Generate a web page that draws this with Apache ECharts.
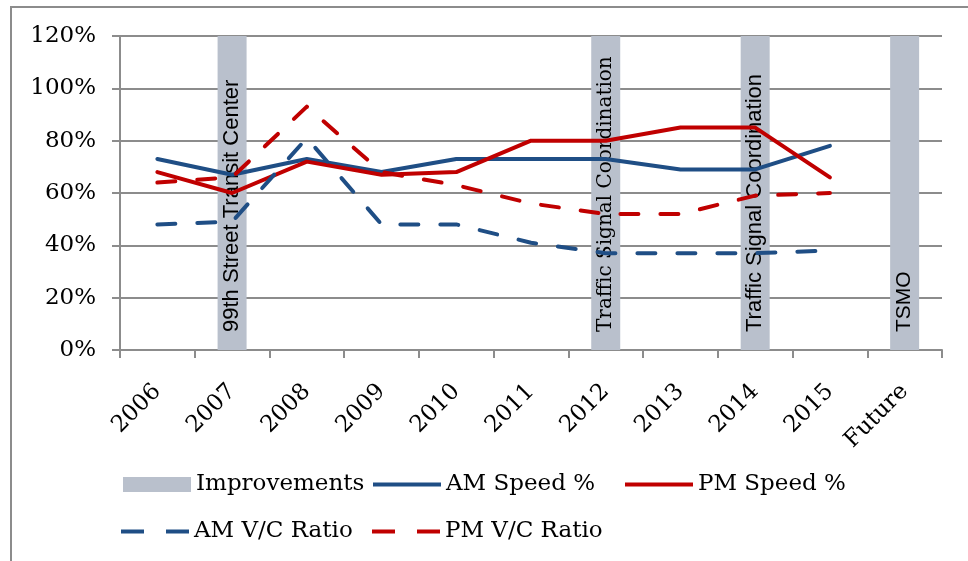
<!DOCTYPE html>
<html>
<head>
<meta charset="utf-8">
<script src="https://cdn.jsdelivr.net/npm/echarts@6/dist/echarts.min.js"></script>
<style>
  html, body { margin: 0; padding: 0; background: #fff; }
  #chart { width: 968px; height: 561px; }
</style>
</head>
<body>
<div id="chart"></div>
<script>
// Years on the category axis
const categories = ['2006', '2007', '2008', '2009', '2010', '2011', '2012', '2013', '2014', '2015', 'Future'];

// Corridor performance, percent
const amSpeed = [73, 67, 73, 68, 73, 73, 73, 69, 69, 78];
const pmSpeed = [68, 60, 72, 67, 68, 80, 80, 85, 85, 66];
const amVC    = [48, 49, 81, 48, 48, 41, 37, 37, 37, 38];
const pmVC    = [64, 66, 93, 68, 63, 56, 52, 52, 59, 60];

// Improvement markers (full-height columns)
const improvementYears  = ['2007', '2012', '2014', 'Future'];
const improvementLabels = ['99th Street Transit Center', 'Traffic Signal Coordination', 'Traffic Signal Coordination', 'TSMO'];
const improvementHeight = 120;

// Value axis ticks (percent)
const yMin = 0, yMax = 120, yStep = 20;

// Label typefaces for each improvement column
const improvementFonts = [
  { fontFamily: 'Liberation Sans', fontSize: 22 },
  { fontFamily: 'DejaVu Serif', fontSize: 20 },
  { fontFamily: 'Liberation Sans', fontSize: 22 },
  { fontFamily: 'Liberation Sans', fontSize: 21 }
];

const BLUE = '#1f4e85';
const RED = '#c00000';
const GRAY_BAR = '#b9c0cc';
const AXIS_GRAY = '#8c8c8c';
const SERIF = 'DejaVu Serif';

const barData = categories.map(function (c) {
  const i = improvementYears.indexOf(c);
  if (i < 0) return '-';
  return {
    value: improvementHeight,
    label: Object.assign({ formatter: improvementLabels[i] }, improvementFonts[i])
  };
});

const dash = [18, 22];

function lineSeries(name, data, color, dashed) {
  return {
    name: name,
    type: 'line',
    data: data,
    symbol: 'none',
    z: 3,
    lineStyle: {
      color: color,
      width: 4,
      type: dashed ? dash : 'solid',
      cap: 'round',
      join: 'round'
    },
    itemStyle: { color: color },
    emphasis: { disabled: true }
  };
}

// Legend swatches: solid bar, solid line, dashed line
const ICON_SOLID = 'path://M0,0h68v4h-68z';
const ICON_DASHED = 'path://M0,0h23v4h-23z M45,0h23v4h-23z';

const legendText = { fontFamily: SERIF, fontSize: 23, color: '#000' };
function legendAt(name, left, top, icon, h) {
  return {
    data: [{ name: name, icon: icon }],
    left: left,
    top: top,
    padding: 0,
    itemWidth: 68,
    itemHeight: h,
    itemGap: 0,
    selectedMode: false,
    textStyle: legendText
  };
}

const chart = echarts.init(document.getElementById('chart'), null, { renderer: 'canvas' });
chart.setOption({
  animation: false,
  backgroundColor: '#fff',
  graphic: [{
    type: 'rect',
    shape: { x: 11, y: 7, width: 1000, height: 620 },
    style: { fill: 'none', stroke: AXIS_GRAY, lineWidth: 2 },
    z: -10,
    silent: true
  }],
  grid: { left: 120, right: 26, top: 36, bottom: 211, containLabel: false },
  legend: [
    legendAt('Improvements', 123, 473, 'rect', 15),
    legendAt('AM Speed %', 373, 473, ICON_SOLID, 4),
    legendAt('PM Speed %', 625, 473, ICON_SOLID, 4),
    legendAt('AM V/C Ratio', 121, 520, ICON_DASHED, 4),
    legendAt('PM V/C Ratio', 372, 520, ICON_DASHED, 4)
  ],
  xAxis: {
    type: 'category',
    data: categories,
    boundaryGap: true,
    axisLine: { show: true, lineStyle: { color: AXIS_GRAY, width: 2 } },
    axisTick: { show: true, length: 8, lineStyle: { color: AXIS_GRAY, width: 2 } },
    axisLabel: {
      rotate: 45,
      margin: 38,
      color: '#000',
      fontFamily: SERIF,
      fontSize: 23,
      interval: 0
    },
    splitLine: { show: false }
  },
  yAxis: {
    type: 'value',
    min: yMin,
    max: yMax,
    interval: yStep,
    axisLine: { show: true, lineStyle: { color: AXIS_GRAY, width: 2 } },
    axisTick: { show: true, length: 8, lineStyle: { color: AXIS_GRAY, width: 2 } },
    axisLabel: {
      formatter: '{value}%',
      margin: 24,
      color: '#000',
      fontFamily: SERIF,
      fontSize: 23
    },
    splitLine: { show: true, lineStyle: { color: AXIS_GRAY, width: 2 } }
  },
  series: [
    {
      name: 'Improvements',
      type: 'bar',
      data: barData,
      barWidth: 29,
      z: 1,
      itemStyle: { color: GRAY_BAR },
      label: {
        show: true,
        position: 'insideBottom',
        rotate: 90,
        align: 'left',
        verticalAlign: 'middle',
        distance: 18,
        color: '#000'
      },
      emphasis: { disabled: true }
    },
    lineSeries('AM Speed %', amSpeed, BLUE, false),
    lineSeries('PM Speed %', pmSpeed, RED, false),
    lineSeries('AM V/C Ratio', amVC, BLUE, true),
    lineSeries('PM V/C Ratio', pmVC, RED, true)
  ]
});
</script>
</body>
</html>
